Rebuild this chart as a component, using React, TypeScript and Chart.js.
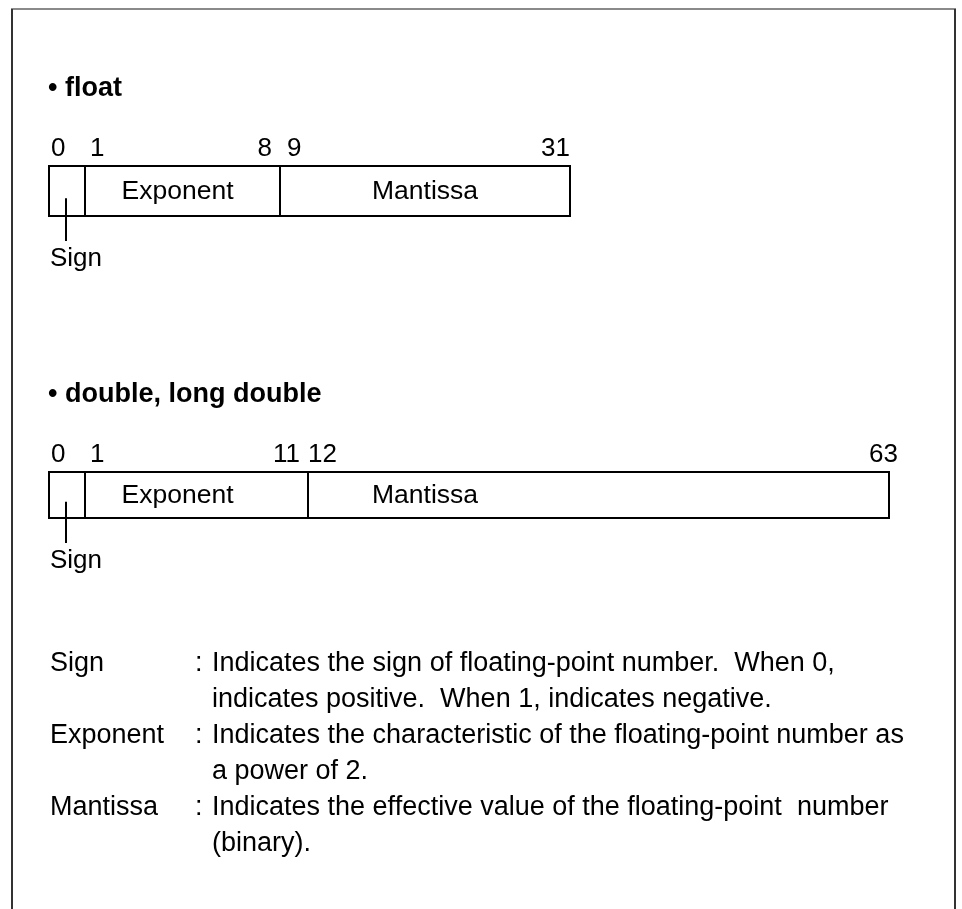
import React, { useEffect, useRef } from "react";
import { Chart, registerables, LinearScale } from "chart.js";

// ---- data ----
const rows = ["float", "double, long double"];
const fieldNames = ["Sign", "Exponent", "Mantissa"];
const floatFrom = [0, 1, 9];
const floatTo = [0, 8, 31];
const doubleFrom = [0, 1, 12];
const doubleTo = [0, 11, 63];
const floatBitLabels = [0, 1, 8, 9, 31];
const doubleBitLabels = [0, 1, 11, 12, 63];
const legendTerms = ["Sign", "Exponent", "Mantissa"];
const legendText = [
  ["Indicates the sign of floating-point number.  When 0,", "indicates positive.  When 1, indicates negative."],
  ["Indicates the characteristic of the floating-point number as", "a power of 2."],
  ["Indicates the effective value of the floating-point  number", "(binary)."],
];

// ---- layout (style) ----
const W = 962;
const H = 909;
const FONT = '"Liberation Sans", Arial, sans-serif';
// piecewise bit->pixel layout of each bit-field scale (px offsets from the scale's left)
const scaleLayouts: Record<string, { breaks: number[]; stops: number[] }> = {
  xf: { breaks: [0, 1, 9, 32], stops: [0, 36, 231, 523] },
  xd: { breaks: [0, 1, 12, 64], stops: [0, 36, 259, 842] },
};
const thickness = [52, 48];
// horizontal nudges (px) of the bit-number labels relative to their field edge
const bitLabelNudge = [
  [3, 6, -7, 8, -1],
  [3, 6, -7, 1, 8],
];

class BitFieldScale extends LinearScale {
  static id = "bitfield";
  static defaults = LinearScale.defaults;
  getPixelForValue(value: number) {
    const { breaks, stops } = scaleLayouts[(this as any).id];
    if (value <= breaks[0]) return (this as any).left + stops[0];
    for (let i = 1; i < breaks.length; i++) {
      if (value <= breaks[i]) {
        const t = (value - breaks[i - 1]) / (breaks[i] - breaks[i - 1]);
        return (this as any).left + stops[i - 1] + t * (stops[i] - stops[i - 1]);
      }
    }
    return (this as any).left + stops[stops.length - 1];
  }
  getValueForPixel(pixel: number) {
    const { breaks, stops } = scaleLayouts[(this as any).id];
    const p = pixel - (this as any).left;
    for (let i = 1; i < stops.length; i++) {
      if (p <= stops[i]) {
        const t = (p - stops[i - 1]) / (stops[i] - stops[i - 1]);
        return breaks[i - 1] + t * (breaks[i] - breaks[i - 1]);
      }
    }
    return breaks[breaks.length - 1];
  }
}

Chart.register(...registerables, BitFieldScale);

const diagrams = [
  { from: floatFrom, to: floatTo, bits: floatBitLabels, axis: "xf" },
  { from: doubleFrom, to: doubleTo, bits: doubleBitLabels, axis: "xd" },
];

const drawPlugin = {
  id: "bitDiagram",
  afterDraw(chart: any) {
    const ctx: CanvasRenderingContext2D = chart.ctx;
    const yS = chart.scales.y;
    const xf = chart.scales.xf;
    ctx.save();
    // frame
    ctx.lineWidth = 2;
    ctx.strokeStyle = "#8a8a8a";
    ctx.beginPath();
    ctx.moveTo(11, 9);
    ctx.lineTo(956, 9);
    ctx.stroke();
    ctx.strokeStyle = "#333";
    ctx.beginPath();
    ctx.moveTo(12, 9);
    ctx.lineTo(12, H);
    ctx.moveTo(955, 9);
    ctx.lineTo(955, H);
    ctx.stroke();

    ctx.fillStyle = "#000";
    ctx.strokeStyle = "#000";
    diagrams.forEach((d, r) => {
      const xs = chart.scales[d.axis];
      const yc = yS.getPixelForValue(r);
      const top = yc - thickness[r] / 2;
      const bottom = yc + thickness[r] / 2;
      // title
      ctx.font = `bold 27px ${FONT}`;
      ctx.textAlign = "left";
      ctx.textBaseline = "middle";
      ctx.fillText("\u2022 " + rows[r], chart.chartArea.left, top - 76);
      // bit numbers
      ctx.font = `26px ${FONT}`;
      ctx.textBaseline = "alphabetic";
      d.bits.forEach((b, j) => {
        const isStart = d.from.includes(b);
        if (isStart) {
          ctx.textAlign = "left";
          ctx.fillText(String(b), xs.getPixelForValue(b) + bitLabelNudge[r][j], top - 9);
        } else {
          ctx.textAlign = "right";
          ctx.fillText(String(b), xs.getPixelForValue(b + 1) + bitLabelNudge[r][j], top - 9);
        }
      });
      // field names (positioned at the float layout's field centres)
      ctx.font = `26.5px ${FONT}`;
      ctx.textAlign = "center";
      ctx.textBaseline = "middle";
      fieldNames.forEach((name, i) => {
        if (i === 0) return;
        const cx = (xf.getPixelForValue(floatFrom[i]) + xf.getPixelForValue(floatTo[i] + 1)) / 2;
        ctx.fillText(name, cx - (i === 1 ? 4 : 0), yc + 1);
      });
      // sign callout
      const sx = (xs.getPixelForValue(d.from[0]) + xs.getPixelForValue(d.to[0] + 1)) / 2;
      ctx.lineWidth = 2;
      ctx.beginPath();
      ctx.moveTo(sx, top + thickness[r] * 0.64);
      ctx.lineTo(sx, bottom + 24);
      ctx.stroke();
      ctx.font = `26px ${FONT}`;
      ctx.textAlign = "left";
      ctx.fillText(fieldNames[0], chart.chartArea.left + 2, bottom + 42);
    });

    // legend
    const yd = yS.getPixelForValue(1) + thickness[1] / 2;
    let line = 0;
    ctx.font = `27px ${FONT}`;
    ctx.textBaseline = "middle";
    ctx.textAlign = "left";
    legendTerms.forEach((term, i) => {
      const y0 = yd + 145 + line * 36;
      ctx.fillText(term, 50, y0);
      ctx.fillText(":", 195, y0);
      legendText[i].forEach((t, k) => {
        ctx.fillText(t, 212, yd + 145 + (line + k) * 36);
      });
      line += legendText[i].length;
    });
    ctx.restore();
  },
};

export default function App() {
  const ref = useRef<HTMLCanvasElement>(null);
  useEffect(() => {
    document.body.style.margin = "0";
    const datasets: any[] = [];
    diagrams.forEach((d, r) => {
      fieldNames.forEach((name, i) => {
        const last = i === fieldNames.length - 1;
        const val: [number, number] = [d.from[i], d.to[i] + 1];
        datasets.push({
          label: `${rows[r]} ${name}`,
          data: rows.map((_, k) => (k === r ? val : null)),
          xAxisID: d.axis,
          yAxisID: "y",
          barThickness: thickness[r],
          backgroundColor: "#ffffff",
          borderColor: "#000000",
          borderWidth: { top: 2, bottom: 2, left: 2, right: last ? 2 : 0 },
          borderSkipped: false,
          inflateAmount: 0,
          grouped: false,
        });
      });
    });
    const chart = new Chart(ref.current!, {
      type: "bar",
      data: { labels: rows, datasets },
      options: {
        indexAxis: "y",
        animation: false,
        responsive: false,
        devicePixelRatio: 1,
        layout: { padding: { left: 48, right: W - 890, top: 39, bottom: H - 647 } },
        plugins: { legend: { display: false }, tooltip: { enabled: false } },
        scales: {
          xf: { type: "bitfield" as any, display: false, min: 0, max: 32 },
          xd: { type: "bitfield" as any, display: false, min: 0, max: 64 },
          y: { type: "category", display: false, offset: true },
        },
      },
      plugins: [drawPlugin],
    });
    return () => chart.destroy();
  }, []);
  return <canvas ref={ref} width={W} height={H} style={{ display: "block", background: "#fff" }} />;
}
